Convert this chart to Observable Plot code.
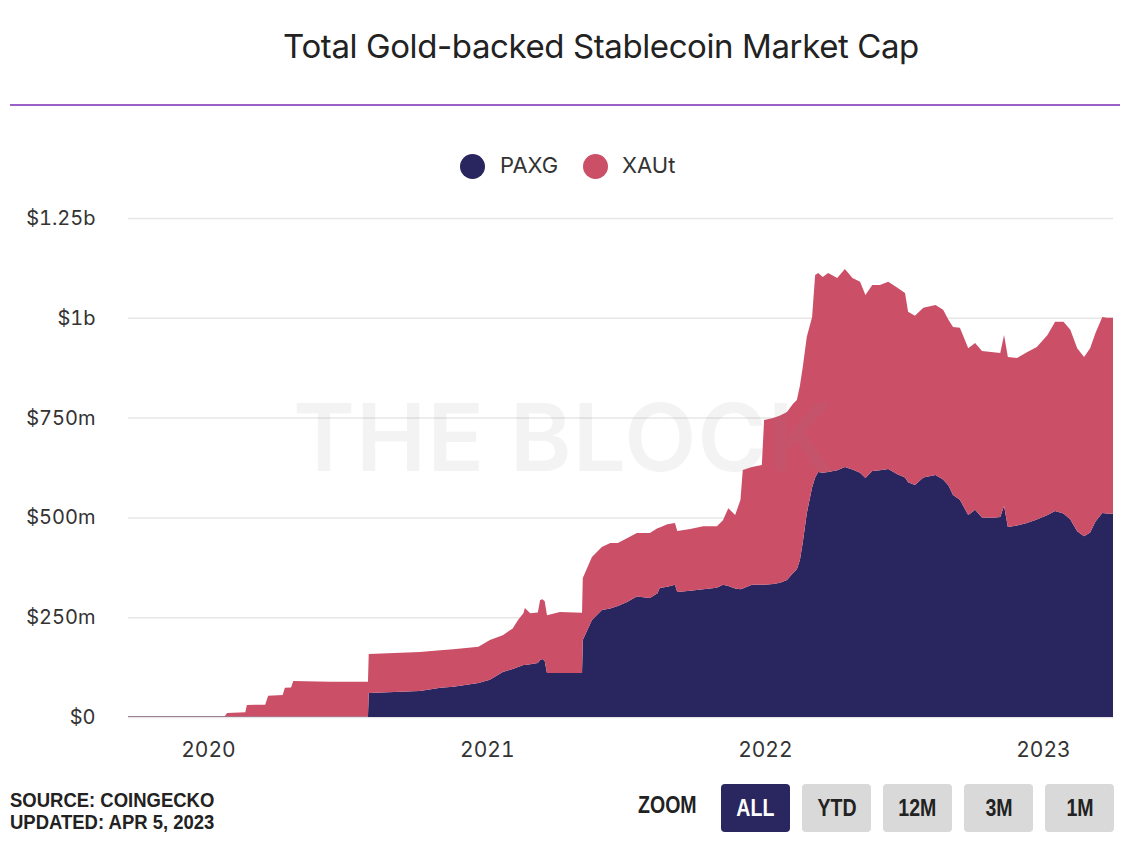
<!DOCTYPE html>
<html>
<head>
<meta charset="utf-8">
<script src="https://cdn.jsdelivr.net/npm/d3@7"></script>
<script src="https://cdn.jsdelivr.net/npm/@observablehq/plot@0.6"></script>
<style>
  html, body { margin: 0; padding: 0; background: #fff; }
  #page { position: relative; width: 1129px; height: 852px; overflow: hidden; font-family: Inter, "Noto Sans", sans-serif; }
  .abs { position: absolute; }
  #title { left: 0; width: 1202px; top: 26px; text-align: center; font-size: 33px; color: #222; letter-spacing: -0.4px; }
  #rule { left: 10px; top: 104px; width: 1110px; height: 2px; background: #9b5fc8; }
  .dot { width: 25px; height: 25px; border-radius: 50%; }
  .leg { font-size: 22px; color: #333; }
  #chart { left: 0; top: 190px; }
  #wm { left: 293px; top: 380px; font-size: 94px; font-weight: 600; color: rgba(140,140,140,0.10); letter-spacing: 1px; white-space: nowrap; pointer-events: none; }
  .foot { font-family: "Liberation Sans", Arial, sans-serif; font-weight: 700; color: #222; font-size: 21px; transform: scaleX(0.88); transform-origin: left center; white-space: nowrap; }
  .btn { top: 784px; width: 69px; height: 48px; border-radius: 4px; background: #d9d9d9; color: #222; display: flex; align-items: center; justify-content: center; }
  .btn span { font-family: "Liberation Sans", Arial, sans-serif; font-weight: 700; font-size: 23px; transform: scaleX(0.85); display: inline-block; }
  .btn.on { background: #2a2660; color: #fff; }
</style>
</head>
<body>
<div id="page">
  <div id="title" class="abs">Total Gold-backed Stablecoin Market Cap</div>
  <div id="rule" class="abs"></div>
  <div class="abs dot" style="left:460px;top:154px;background:#29255e"></div>
  <div class="abs leg" style="left:500px;top:152px">PAXG</div>
  <div class="abs dot" style="left:583px;top:154px;background:#cc4f68"></div>
  <div class="abs leg" style="left:622px;top:152px">XAUt</div>
  <div id="chart" class="abs"></div>
  <div id="wm" class="abs">THE BLOCK</div>
  <div class="abs foot" style="left:10px;top:788px">SOURCE: COINGECKO</div>
  <div class="abs foot" style="left:10px;top:810px">UPDATED: APR 5, 2023</div>
  <div class="abs foot" style="left:638px;top:792px;font-size:23px;transform:scaleX(0.85)">ZOOM</div>
  <div id="buttons"></div>
</div>
<script>
// Series
const seriesNames = ["PAXG", "XAUt"];
const seriesColors = ["#29255e", "#cc4f68"];

// Dates of readings
const dates = [
  "2019-09-18","2020-01-23","2020-01-26","2020-02-19","2020-02-21","2020-03-16","2020-03-20","2020-04-08",
  "2020-04-11","2020-04-19","2020-04-22","2020-06-09","2020-07-29","2020-07-30","2020-10-05","2020-11-01",
  "2020-11-18","2020-12-21","2021-01-05","2021-01-22","2021-02-04","2021-02-11","2021-02-18","2021-02-20",
  "2021-02-27","2021-03-09","2021-03-12","2021-03-15","2021-03-18","2021-03-21","2021-04-07","2021-05-06",
  "2021-05-07","2021-05-19","2021-06-01","2021-06-12","2021-06-22","2021-07-04","2021-07-17","2021-08-03",
  "2021-08-13","2021-08-16","2021-08-26","2021-09-05","2021-09-08","2021-09-25","2021-10-12","2021-10-30",
  "2021-11-07","2021-11-14","2021-11-23","2021-11-30","2021-12-03","2021-12-15","2021-12-28","2021-12-31",
  "2022-01-12","2022-01-21","2022-01-30","2022-02-07","2022-02-12","2022-02-16","2022-02-20","2022-02-25",
  "2022-03-04","2022-03-08","2022-03-12","2022-03-18","2022-03-25","2022-04-06","2022-04-16","2022-04-26",
  "2022-05-06","2022-05-13","2022-05-22","2022-06-01","2022-06-12","2022-06-24","2022-07-04","2022-07-08",
  "2022-07-17","2022-07-28","2022-08-13","2022-08-23","2022-08-30","2022-09-05","2022-09-14","2022-09-25",
  "2022-10-04","2022-10-13","2022-10-28","2022-11-06","2022-11-11","2022-11-16","2022-11-28","2022-12-11",
  "2022-12-24","2023-01-07","2023-01-17","2023-01-28","2023-02-06","2023-02-15","2023-02-24","2023-03-04",
  "2023-03-11","2023-03-20","2023-03-26","2023-04-03"
];

// PAXG market cap, $m
const paxg = [
  1.5,1.5,1.5,1.5,1.5,1.5,1.5,1.5,
  1.5,1.5,1.5,1.5,1.5,60,65,73,
  76,85,93,113,120,125,130,130,
  132,135,143,145,140,110,110,110,
  193,243,268,272,278,288,302,298,
  310,323,326,331,313,316,320,324,
  331,328,322,320,322,331,331,331,
  333,336,343,361,370,393,440,510,
  575,600,614,612,614,618,626,620,
  612,599,616,618,621,608,600,588,
  581,600,606,595,580,556,544,506,
  519,500,499,501,529,476,480,486,
  495,506,516,510,495,465,453,462,
  490,511,510,509
];

// XAUt market cap, $m
const xaut = [
  0.5,0.5,8.5,10.5,28.5,29.5,51.5,53.5,
  71.5,72.5,88.5,86.5,86.5,98,98,94,
  94,91,100,92,102,118,130,143,
  128,127,150,150,150,145,153,151,
  155,158,158,164,158,160,159,163,
  163,152,157,155,153,155,158,154,
  162,195,184,224,297,295,300,413,
  416,419,421,424,424,437,440,442,
  427,507,498,490,498,482,496,480,
  478,458,466,464,469,467,462,427,
  424,425,426,425,415,421,431,418,
  418,417,415,411,428,426,419,428,
  432,451,474,480,475,459,449,462,
  472,491,490,491
];

// Axis ticks
const yTicks = [0, 250, 500, 750, 1000, 1250];
const yTickLabels = ["$0", "$250m", "$500m", "$750m", "$1b", "$1.25b"];
const xTickYears = ["2020-01-01", "2021-01-01", "2022-01-01", "2023-01-01"];
const xDomain = ["2019-09-18", "2023-04-03"];

const zoomButtons = ["ALL", "YTD", "12M", "3M", "1M"];

const long = [];
seriesNames.forEach((s, si) => {
  const vals = si === 0 ? paxg : xaut;
  dates.forEach((d, i) => long.push({date: new Date(d), series: s, value: vals[i]}));
});

const chart = Plot.plot({
  width: 1129,
  height: 580,
  marginLeft: 128,
  marginRight: 16,
  marginTop: 28,
  marginBottom: 53,
  style: {fontFamily: "Inter, 'Noto Sans', sans-serif", fontSize: "20px", color: "#333", background: "transparent", overflow: "visible"},
  x: {type: "utc", domain: xDomain.map(d => new Date(d)), label: null},
  y: {domain: [0, 1250], label: null},
  color: {domain: seriesNames, range: seriesColors},
  marks: [
    Plot.gridY(yTicks, {stroke: "#e6e6e6", strokeOpacity: 1, strokeWidth: 1.5}),
    Plot.areaY(long, Plot.stackY({x: "date", y: "value", fill: "series", order: seriesNames})),
    Plot.axisY(yTicks, {tickSize: 0, tickPadding: 33, tickFormat: (d) => yTickLabels[yTicks.indexOf(d)], fill: "#333", fontSize: 20}),
    Plot.axisX(xTickYears.map(d => new Date(d)), {tickSize: 0, tickPadding: 25, tickFormat: d3.utcFormat("%Y"), fill: "#333", fontSize: 21})
  ]
});
document.getElementById("chart").appendChild(chart);

const bwrap = document.getElementById("buttons");
zoomButtons.forEach((b, i) => {
  const el = document.createElement("div");
  el.className = "abs btn" + (i === 0 ? " on" : "");
  el.style.left = (721 + i * 81) + "px";
  const sp = document.createElement("span");
  sp.textContent = b;
  el.appendChild(sp);
  bwrap.appendChild(el);
});
</script>
</body>
</html>
